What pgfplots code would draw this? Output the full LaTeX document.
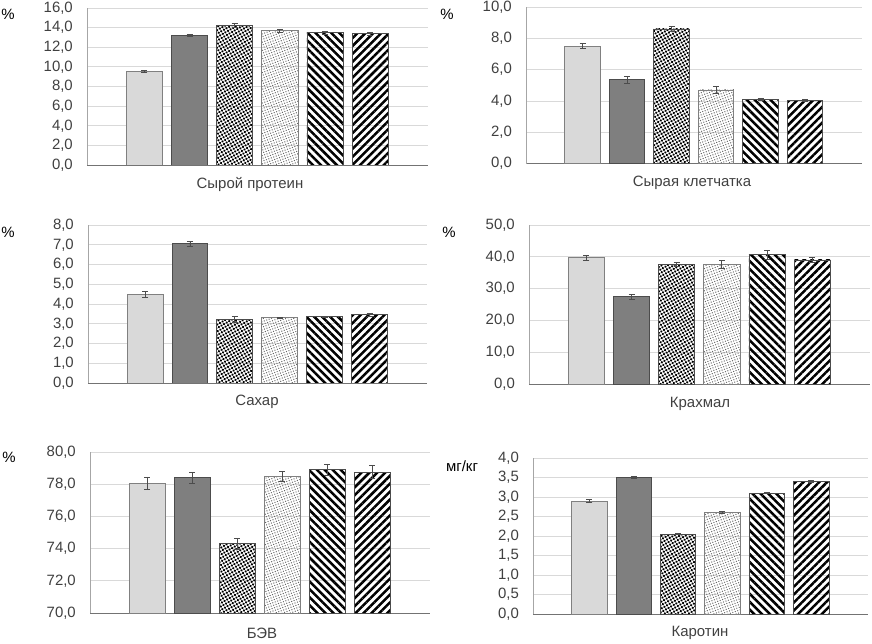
\documentclass[border=0pt]{standalone}
\usepackage{fontspec}
\setmainfont{Liberation Sans}
\usepackage{pgfplots}
\pgfplotsset{compat=1.18}
\usetikzlibrary{patterns.meta}

\definecolor{barlight}{HTML}{D9D9D9}
\definecolor{bardark}{HTML}{7F7F7F}
\definecolor{gridc}{HTML}{D9D9D9}
\definecolor{txt}{HTML}{404040}

\pgfplotsset{
  panel/.style={
    scale only axis,
    anchor=north west,
    xmin=-1.27, xmax=6.28,
    ybar, bar width=0.8, bar shift=0pt,
    xtick=\empty,
    ymajorgrids, grid style={gridc, line width=0.8pt},
    axis lines*=left,
    x axis line style={-, black!55, line width=0.9pt},
    y axis line style={-, black!35, line width=0.9pt},
    major tick length=0pt,
    yticklabel style={font=\fontsize{15}{15}\selectfont, text=txt, inner sep=0pt, xshift=-14bp},
    /pgf/number format/.cd, fixed, fixed zerofill, precision=1, use comma, assume math mode=true,
    /pgfplots/.cd,
    error bars/y dir=both, error bars/y explicit,
    error bars/error bar style={black!70, line width=0.8pt},
    error bars/error mark options={rotate=90, mark size=3bp, black!70, line width=0.8pt},
  },
  s1/.style={fill=barlight, draw=black!50, line width=0.8pt},
  s2/.style={fill=bardark, draw=black!70, line width=0.8pt},
  s3/.style={fill=white, draw=black!70, line width=0.8pt,
    pattern={Dots[radius=1.3bp, distance=3bp, angle=30]}, pattern color=black},
  s4/.style={fill=white, draw=black!50, line width=0.8pt,
    pattern={Dots[radius=0.7bp, distance=2.6bp, angle=20]}, pattern color=black!60},
  s5/.style={fill=white, draw=black!70, line width=0.8pt,
    pattern={Lines[angle=-45, distance=5.6bp, line width=2.5bp]}, pattern color=black},
  s6/.style={fill=white, draw=black!70, line width=0.8pt,
    pattern={Lines[angle=45, distance=5.6bp, line width=2.5bp]}, pattern color=black},
}

\begin{document}
\begin{tikzpicture}[x=1bp, y=1bp, font=\fontsize{15}{15}\selectfont]
\useasboundingbox (0,0) rectangle (872,-644);

% Сырой протеин
\begin{axis}[panel, at={(87bp,-8bp)}, width=341bp, height=157bp,
  ymin=0, ymax=16, ytick={0,2,...,16}]
  \addplot[s1] coordinates {(0,9.5) +- (0,0.1)};
  \addplot[s2] coordinates {(1,13.2) +- (0,0.1)};
  \addplot[s3] coordinates {(2,14.2) +- (0,0.2)};
  \addplot[s4] coordinates {(3,13.7) +- (0,0.15)};
  \addplot[s5] coordinates {(4,13.5) +- (0,0.15)};
  \addplot[s6] coordinates {(5,13.4) +- (0,0.15)};
\end{axis}

% Сырая клетчатка
\begin{axis}[panel, at={(526bp,-7bp)}, width=336bp, height=156.5bp,
  ymin=0, ymax=10, ytick={0,2,...,10}]
  \addplot[s1] coordinates {(0,7.5) +- (0,0.15)};
  \addplot[s2] coordinates {(1,5.35) +- (0,0.2)};
  \addplot[s3] coordinates {(2,8.6) +- (0,0.15)};
  \addplot[s4] coordinates {(3,4.7) +- (0,0.2)};
  \addplot[s5] coordinates {(4,4.1) +- (0,0.07)};
  \addplot[s6] coordinates {(5,4.05) +- (0,0.05)};
\end{axis}

% Сахар
\begin{axis}[panel, at={(88bp,-225bp)}, width=339bp, height=158bp,
  ymin=0, ymax=8, ytick={0,1,...,8}]
  \addplot[s1] coordinates {(0,4.5) +- (0,0.15)};
  \addplot[s2] coordinates {(1,7.05) +- (0,0.12)};
  \addplot[s3] coordinates {(2,3.23) +- (0,0.15)};
  \addplot[s4] coordinates {(3,3.3) +- (0,0.03)};
  \addplot[s5] coordinates {(4,3.35) +- (0,0.02)};
  \addplot[s6] coordinates {(5,3.45) +- (0,0.06)};
\end{axis}

% Крахмал
\begin{axis}[panel, at={(529bp,-225bp)}, width=341bp, height=159bp,
  ymin=0, ymax=50, ytick={0,10,...,50}]
  \addplot[s1] coordinates {(0,39.7) +- (0,0.8)};
  \addplot[s2] coordinates {(1,27.4) +- (0,0.9)};
  \addplot[s3] coordinates {(2,37.5) +- (0,0.6)};
  \addplot[s4] coordinates {(3,37.6) +- (0,1.2)};
  \addplot[s5] coordinates {(4,40.6) +- (0,1.3)};
  \addplot[s6] coordinates {(5,39.0) +- (0,0.9)};
\end{axis}

% БЭВ
\begin{axis}[panel, at={(90bp,-452bp)}, width=340bp, height=161bp,
  ymin=70, ymax=80, ytick={70,72,...,80}]
  \addplot[s1] coordinates {(0,78.05) +- (0,0.4)};
  \addplot[s2] coordinates {(1,78.4) +- (0,0.35)};
  \addplot[s3] coordinates {(2,74.3) +- (0,0.35)};
  \addplot[s4] coordinates {(3,78.5) +- (0,0.3)};
  \addplot[s5] coordinates {(4,78.9) +- (0,0.35)};
  \addplot[s6] coordinates {(5,78.75) +- (0,0.4)};
\end{axis}

% Каротин
\begin{axis}[panel, at={(533bp,-458bp)}, width=335bp, height=156bp,
  ymin=0, ymax=4, ytick={0,0.5,...,4}]
  \addplot[s1] coordinates {(0,2.9) +- (0,0.03)};
  \addplot[s2] coordinates {(1,3.5) +- (0,0.03)};
  \addplot[s3] coordinates {(2,2.05) +- (0,0.02)};
  \addplot[s4] coordinates {(3,2.6) +- (0,0.03)};
  \addplot[s5] coordinates {(4,3.1) +- (0,0.02)};
  \addplot[s6] coordinates {(5,3.4) +- (0,0.03)};
\end{axis}

% units
\node[text=black] at (8,-14) {\%};
\node[text=black] at (447,-14) {\%};
\node[text=black] at (8,-232) {\%};
\node[text=black] at (449,-232) {\%};
\node[text=black] at (9,-457) {\%};
\node[text=black] at (462,-466) {мг/кг};

% panel titles
\node[text=txt] at (250,-185) {Сырой протеин};
\node[text=txt] at (692,-183) {Сырая клетчатка};
\node[text=txt] at (257,-402) {Сахар};
\node[text=txt] at (700,-404) {Крахмал};
\node[text=txt] at (262,-633) {БЭВ};
\node[text=txt] at (700,-633) {Каротин};
\end{tikzpicture}
\end{document}
